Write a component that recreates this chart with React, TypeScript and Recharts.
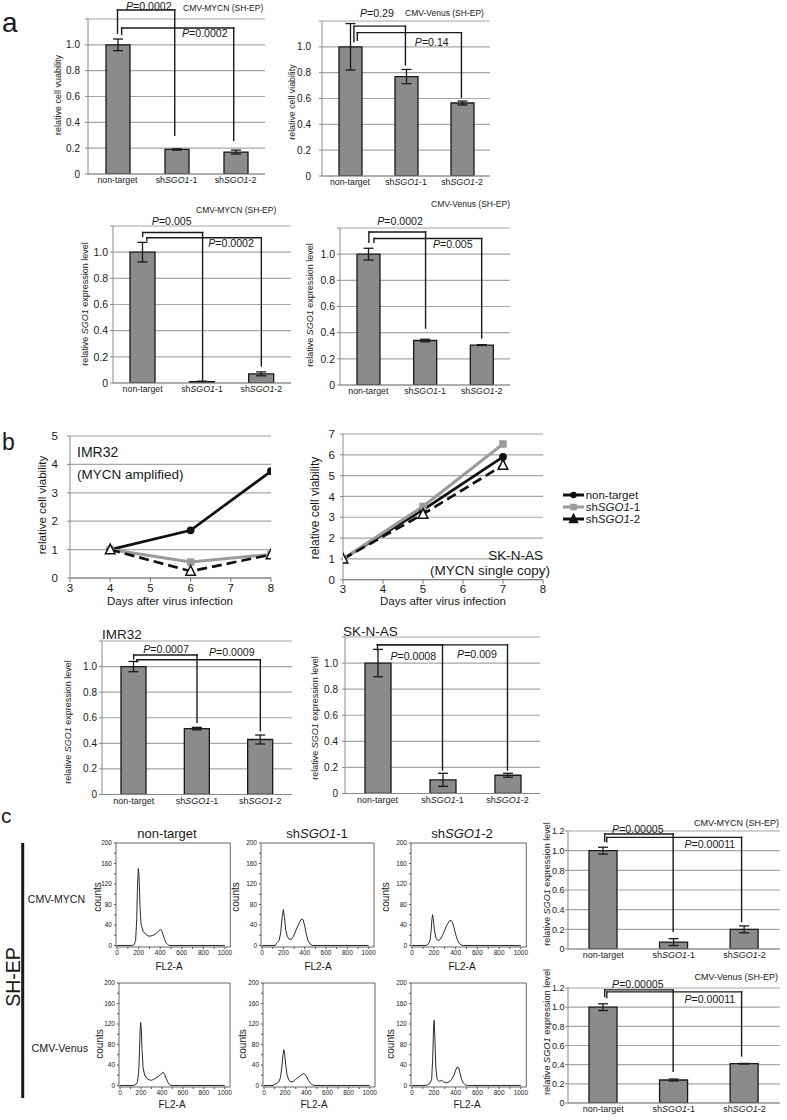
import React from 'react';
import {
  BarChart,
  Bar,
  ErrorBar,
  LineChart,
  Line,
  XAxis,
  YAxis,
  CartesianGrid,
  ReferenceLine,
  ReferenceDot,
  ReferenceArea,
  Legend
} from 'recharts';

const FONT = '"Liberation Sans", Arial, Helvetica, sans-serif';
const INK = '#1a1a1a';
const GRID = '#a6a6a6';
const AXIS = '#8a8a8a';
const BAR_FILL = '#8b8b8b';

// ---------- shared categories / ticks ----------
const groups = ['non-target', 'shSGO1-1', 'shSGO1-2'];
const barTicks = [0, 0.2, 0.4, 0.6, 0.8, 1.0, 1.2];
const dayTicks = [3, 4, 5, 6, 7, 8];
const imrViabTicks = [0, 1, 2, 3, 4, 5];
const sknViabTicks = [0, 1, 2, 3, 4, 5, 6, 7];
const fl2Ticks = [0, 100, 200, 300, 400, 500, 600, 700, 800, 900, 1000];
const countTicks = [0, 20, 40, 60, 80, 100, 120, 140, 160, 180, 200];

// ---------- panel a (SH-EP) ----------
const viabMycn = [1.0, 0.19, 0.17];
const viabMycnErr = [0.045, 0.005, 0.015];
const viabVenus = [1.0, 0.77, 0.565];
const viabVenusErr = [0.18, 0.055, 0.015];
const sgoMycnA = [1.0, 0.01, 0.07];
const sgoMycnAErr = [0.075, 0.004, 0.015];
const sgoVenusA = [1.0, 0.34, 0.305];
const sgoVenusAErr = [0.045, 0.01, 0.003];

// ---------- panel b ----------
const imrDays = [4, 6, 8];
const imrNonTarget = [1.0, 1.68, 3.76];
const imrSh1 = [1.0, 0.56, 0.83];
const imrSh2 = [1.0, 0.24, 0.82];
const sknDays = [3, 5, 7];
const sknNonTarget = [1.0, 3.35, 5.9];
const sknSh1 = [1.0, 3.52, 6.52];
const sknSh2 = [1.0, 3.15, 5.5];
const imrSgo = [1.0, 0.515, 0.43];
const imrSgoErr = [0.04, 0.01, 0.035];
const sknSgo = [1.0, 0.105, 0.14];
const sknSgoErr = [0.105, 0.05, 0.015];

// ---------- panel c ----------
const sgoMycnC = [1.0, 0.07, 0.2];
const sgoMycnCErr = [0.035, 0.035, 0.035];
const sgoVenusC = [1.0, 0.24, 0.41];
const sgoVenusCErr = [0.035, 0.01, 0.003];

// FL2-A histograms: [FL2-A, counts]
const histMycnNonTarget: [number, number][] = [
  [0, 0], [140, 0], [160, 2], [172, 10], [182, 50], [190, 120], [197, 150], [204, 135],
  [212, 80], [222, 42], [240, 28], [265, 22], [295, 18], [325, 19], [355, 22], [380, 27],
  [400, 31], [412, 30], [425, 22], [440, 12], [455, 5], [470, 2], [485, 0], [1000, 0]
];
const histMycnSh1: [number, number][] = [
  [0, 0], [125, 0], [135, 4], [145, 6], [160, 10], [175, 25], [188, 55], [200, 70],
  [210, 55], [222, 30], [238, 17], [255, 12], [275, 12], [295, 18], [315, 28], [335, 38],
  [355, 47], [372, 52], [385, 50], [400, 38], [415, 22], [430, 10], [450, 3], [470, 0], [1000, 0]
];
const histMycnSh2: [number, number][] = [
  [0, 0], [130, 0], [150, 3], [165, 10], [175, 28], [182, 50], [188, 60], [195, 52],
  [205, 30], [220, 14], [240, 9], [260, 12], [280, 20], [300, 30], [320, 40], [340, 47],
  [358, 49], [372, 45], [385, 35], [400, 22], [415, 12], [430, 5], [450, 1], [470, 0], [1000, 0]
];
const histVenusNonTarget: [number, number][] = [
  [0, 0], [130, 0], [150, 2], [165, 6], [178, 25], [186, 70], [192, 110], [197, 123],
  [203, 110], [210, 70], [220, 35], [235, 20], [255, 14], [280, 11], [300, 10], [320, 12],
  [345, 15], [370, 18], [390, 22], [405, 25], [413, 26], [425, 22], [440, 14], [455, 7],
  [470, 2], [485, 0], [1000, 0]
];
const histVenusSh1: [number, number][] = [
  [0, 0], [85, 0], [100, 2], [120, 4], [140, 7], [155, 15], [168, 35], [178, 58], [187, 70],
  [195, 62], [205, 40], [218, 20], [235, 10], [255, 7], [275, 8], [300, 12], [325, 16],
  [350, 20], [370, 23], [385, 22], [400, 18], [420, 10], [440, 4], [460, 1], [475, 0], [1000, 0]
];
const histVenusSh2: [number, number][] = [
  [0, 0], [120, 0], [140, 1], [165, 4], [180, 12], [190, 55], [197, 110], [203, 127],
  [210, 90], [218, 35], [230, 12], [250, 8], [270, 10], [290, 7], [315, 5], [340, 7],
  [365, 12], [385, 20], [400, 30], [415, 36], [428, 35], [440, 25], [455, 12], [470, 5],
  [490, 1], [510, 0], [1000, 0]
];

// significance brackets, in data units (x: category index, y: value)
type Bracket = { a: number; b: number; top: number; aEnd: number; bEnd: number; p: string; px: number; py: number };

const bracketsViabMycn: Bracket[] = [
  { a: 0, b: 0.97, top: 1.27, aEnd: 1.09, bEnd: 0.3, p: '0.0002', px: 0.53, py: 1.272 },
  { a: 0.07, b: 1.97, top: 1.13, aEnd: 1.08, bEnd: 0.26, p: '0.0002', px: 1.48, py: 1.06 }
];
const bracketsViabVenus: Bracket[] = [
  { a: 0.07, b: 0.99, top: 1.16, aEnd: 1.04, bEnd: 0.86, p: '0.29', px: 0.48, py: 1.23 },
  { a: 0.13, b: 1.99, top: 1.11, aEnd: 1.05, bEnd: 0.61, p: '0.14', px: 1.46, py: 1.01 }
];
const bracketsSgoMycnA: Bracket[] = [
  { a: 0, b: 1.01, top: 1.15, aEnd: 1.12, bEnd: 0.02, p: '0.005', px: 0.49, py: 1.21 },
  { a: 0.07, b: 2.0, top: 1.11, aEnd: 1.09, bEnd: 0.13, p: '0.0002', px: 1.49, py: 1.04 }
];
const bracketsSgoVenusA: Bracket[] = [
  { a: 0.01, b: 1.01, top: 1.17, aEnd: 1.09, bEnd: 0.435, p: '0.0002', px: 0.56, py: 1.22 },
  { a: 0.1, b: 2.0, top: 1.12, aEnd: 1.09, bEnd: 0.36, p: '0.005', px: 1.49, py: 1.05 }
];
const bracketsImr: Bracket[] = [
  { a: 0, b: 1.0, top: 1.09, aEnd: 1.06, bEnd: 0.565, p: '0.0007', px: 0.51, py: 1.11 },
  { a: 0.05, b: 2.0, top: 1.053, aEnd: 1.04, bEnd: 0.5, p: '0.0009', px: 1.55, py: 1.08 }
];
const bracketsSkn: Bracket[] = [
  { a: 0, b: 1.0, top: 1.14, aEnd: 1.1, bEnd: 0.18, p: '0.0008', px: 0.55, py: 1.026 },
  { a: 0, b: 2.0, top: 1.14, aEnd: 1.14, bEnd: 0.18, p: '0.009', px: 1.53, py: 1.04 }
];
const bracketsSgoMycnC: Bracket[] = [
  { a: 0.02, b: 0.99, top: 1.17, aEnd: 1.095, bEnd: 0.18, p: '0.00005', px: 0.49, py: 1.18 },
  { a: 0.05, b: 1.96, top: 1.135, aEnd: 1.09, bEnd: 0.28, p: '0.00011', px: 1.51, py: 1.03 }
];
const bracketsSgoVenusC: Bracket[] = [
  { a: 0.02, b: 0.99, top: 1.18, aEnd: 1.11, bEnd: 0.33, p: '0.00005', px: 0.49, py: 1.2 },
  { a: 0.05, b: 1.96, top: 1.16, aEnd: 1.1, bEnd: 0.49, p: '0.00011', px: 1.51, py: 1.04 }
];

// ---------- helpers ----------
const GroupName = ({ name }: { name: string }) => {
  if (!name.startsWith('sh')) return <>{name}</>;
  return (
    <>
      <tspan>sh</tspan>
      <tspan fontStyle="italic">SGO1</tspan>
      <tspan>{name.slice(6)}</tspan>
    </>
  );
};

const HtmlGroupName = ({ name }: { name: string }) => {
  if (!name.startsWith('sh')) return <>{name}</>;
  return (
    <>
      sh<i>SGO1</i>
      {name.slice(6)}
    </>
  );
};

const GroupTick = (props: any) => {
  const { x, y, payload, size } = props;
  return (
    <text x={x} y={y} dy="0.71em" textAnchor="middle" fontSize={size} fontFamily={FONT} fill={INK}>
      <GroupName name={payload.value} />
    </text>
  );
};

const PLabel = ({ cx, cy, text }: { cx: number; cy: number; text: string }) => (
  <text x={cx} y={cy} textAnchor="middle" fontSize={10.6} fontFamily={FONT} fill={INK}>
    <tspan fontStyle="italic">P</tspan>={text}
  </text>
);

function bracketMarks(list: Bracket[], tag: string) {
  const line = { xAxisId: 'n', stroke: INK, strokeWidth: 1.4, strokeLinecap: 'square' as const, ifOverflow: 'visible' as const };
  return list.flatMap((b, i) => [
    <ReferenceLine key={`${tag}${i}a`} {...line} segment={[{ x: b.a, y: b.aEnd }, { x: b.a, y: b.top }]} />,
    <ReferenceLine key={`${tag}${i}t`} {...line} segment={[{ x: b.a, y: b.top }, { x: b.b, y: b.top }]} />,
    <ReferenceLine key={`${tag}${i}b`} {...line} segment={[{ x: b.b, y: b.top }, { x: b.b, y: b.bEnd }]} />,
    <ReferenceDot
      key={`${tag}${i}p`}
      xAxisId="n"
      x={b.px}
      y={b.py}
      ifOverflow="visible"
      shape={(p: any) => <PLabel cx={p.cx} cy={p.cy} text={b.p} />}
    />
  ]);
}

type Rect = [number, number, number, number];

interface BarPanelProps {
  plot: Rect;
  values: number[];
  errors: number[];
  brackets: Bracket[];
  tag: string;
  barSize: number;
  tickGap: number;
  tickFont: number;
  catFont: number;
  showTop?: boolean;
}

const BarPanel: React.FC<BarPanelProps> = ({ plot, values, errors, brackets, tag, barSize, tickGap, tickFont, catFont, showTop }) => {
  const [x1, y1, x2, y2] = plot;
  const L = 60, T = 32, R = 12, B = 22;
  const data = groups.map((g, i) => ({ g, i, v: values[i], e: errors[i] }));
  return (
    <div style={{ position: 'absolute', left: x1 - L, top: y1 - T }}>
      <BarChart
        width={x2 - x1 + L + R}
        height={y2 - y1 + T + B}
        data={data}
        margin={{ top: T, right: R, bottom: B - 16, left: L - 30 }}
      >
        <CartesianGrid vertical={false} stroke={GRID} strokeWidth={1.2} />
        <XAxis
          dataKey="g"
          height={16}
          interval={0}
          tickLine={false}
          tickSize={0}
          tickMargin={3}
          axisLine={{ stroke: AXIS }}
          tick={<GroupTick size={catFont} />}
        />
        <XAxis xAxisId="n" dataKey="i" type="number" domain={[-0.5, 2.5]} allowDataOverflow hide />
        <YAxis
          width={30}
          domain={[0, 1.2]}
          ticks={barTicks}
          interval={0}
          allowDataOverflow
          tickSize={3}
          tickMargin={tickGap - 3}
          axisLine={{ stroke: AXIS }}
          tickLine={{ stroke: AXIS }}
          tick={{ fontSize: tickFont, fill: INK, fontFamily: FONT }}
          tickFormatter={(t: number) => (t === 0 ? '0' : t > 1.1 && !showTop ? '' : t.toFixed(1))}
        />
        <Bar dataKey="v" fill={BAR_FILL} stroke={INK} strokeWidth={1.3} barSize={barSize} isAnimationActive={false}>
          <ErrorBar dataKey="e" width={5} stroke={INK} strokeWidth={1.3} />
        </Bar>
        {bracketMarks(brackets, tag)}
      </BarChart>
    </div>
  );
};

// ---------- growth curves ----------
const seriesStyle: Record<string, { stroke: string; width: number; dash?: string; marker: string }> = {
  nt: { stroke: '#111', width: 2.7, marker: 'circle' },
  sh1: { stroke: '#9b9b9b', width: 3, marker: 'square' },
  sh2: { stroke: '#111', width: 2.7, dash: '10 5', marker: 'triangle' }
};

const Marker = ({ cx, cy, kind, legend }: { cx: number; cy: number; kind: string; legend?: boolean }) => {
  if (kind === 'circle') return <circle cx={cx} cy={cy} r={legend ? 3.2 : 3.9} fill="#111" />;
  if (kind === 'square') {
    const s = legend ? 6.5 : 7.5;
    return <rect x={cx - s / 2} y={cy - s / 2} width={s} height={s} fill="#9b9b9b" />;
  }
  const h = legend ? 4 : 4.8;
  return (
    <path
      d={`M${cx},${cy - h * 1.15}L${cx + h},${cy + h * 0.85}L${cx - h},${cy + h * 0.85}Z`}
      fill={legend ? '#111' : '#fff'}
      stroke="#111"
      strokeWidth={1.5}
    />
  );
};

const legendRows = [
  { key: 'nt', name: 'non-target' },
  { key: 'sh1', name: 'shSGO1-1' },
  { key: 'sh2', name: 'shSGO1-2' }
];

const GrowthLegend = () => (
  <div style={{ fontFamily: FONT, fontSize: 11.5, color: INK }}>
    {legendRows.map((r) => {
      const st = seriesStyle[r.key];
      return (
        <div key={r.key} style={{ display: 'flex', alignItems: 'center', height: 12 }}>
          <svg width={23} height={12} style={{ display: 'block' }}>
            <line x1={1} x2={22} y1={6} y2={6} stroke={st.stroke} strokeWidth={3} />
            <Marker cx={11.5} cy={6} kind={st.marker} legend />
          </svg>
          <span style={{ marginLeft: 1, lineHeight: '12px', whiteSpace: 'nowrap' }}>
            <HtmlGroupName name={r.name} />
          </span>
        </div>
      );
    })}
  </div>
);

interface GrowthPanelProps {
  plot: Rect;
  days: number[];
  series: { key: string; values: number[] }[];
  yTicks: number[];
  tickGap: number;
  legendAt?: [number, number];
}

const GrowthPanel: React.FC<GrowthPanelProps> = ({ plot, days, series, yTicks, tickGap, legendAt }) => {
  const [x1, y1, x2, y2] = plot;
  const L = 45, T = 10, R = legendAt ? 115 : 10, B = 30;
  const left = x1 - L, top = y1 - T;
  return (
    <div style={{ position: 'absolute', left, top }}>
      <LineChart
        width={x2 - x1 + L + R}
        height={y2 - y1 + T + B}
        margin={{ top: T, right: R, bottom: B - 16, left: L - 30 }}
      >
        <CartesianGrid vertical={false} stroke={GRID} strokeWidth={1.2} />
        <XAxis
          dataKey="day"
          type="number"
          domain={[3, 8]}
          ticks={dayTicks}
          interval={0}
          allowDataOverflow
          height={16}
          tickSize={4}
          tickMargin={1.5}
          axisLine={{ stroke: '#777' }}
          tickLine={{ stroke: '#777' }}
          tick={{ fontSize: 11.5, fill: INK, fontFamily: FONT }}
        />
        <YAxis
          width={30}
          domain={[0, yTicks[yTicks.length - 1]]}
          ticks={yTicks}
          interval={0}
          allowDataOverflow
          tickSize={3}
          tickMargin={tickGap - 3}
          axisLine={{ stroke: AXIS }}
          tickLine={{ stroke: AXIS }}
          tick={{ fontSize: 11.5, fill: INK, fontFamily: FONT }}
        />
        {series.map((s) => {
          const st = seriesStyle[s.key];
          return (
            <Line
              key={s.key}
              data={days.map((d, i) => ({ day: d, v: s.values[i] }))}
              dataKey="v"
              type="linear"
              stroke={st.stroke}
              strokeWidth={st.width}
              strokeDasharray={st.dash}
              isAnimationActive={false}
              dot={(p: any) => <Marker key={`${s.key}${p.index}`} cx={p.cx} cy={p.cy} kind={st.marker} />}
              activeDot={false}
            />
          );
        })}
        {legendAt && (
          <Legend
            layout="vertical"
            align="center"
            verticalAlign="middle"
            content={() => <GrowthLegend />}
            wrapperStyle={{ left: legendAt[0] - left, top: legendAt[1] - top, width: 100, height: 36 }}
          />
        )}
      </LineChart>
    </div>
  );
};

// ---------- FL2-A histograms ----------
const HistPanel: React.FC<{ plot: Rect; points: [number, number][] }> = ({ plot, points }) => {
  const [x1, y1, x2, y2] = plot;
  const L = 30, T = 6, R = 6, B = 24;
  const data = points.map(([fl2, count]) => ({ fl2, count }));
  const tick = { fontSize: 6.5, fill: INK, fontFamily: FONT };
  return (
    <div style={{ position: 'absolute', left: x1 - L, top: y1 - T }}>
      <LineChart
        width={x2 - x1 + L + R}
        height={y2 - y1 + T + B}
        data={data}
        margin={{ top: T, right: R, bottom: B - 14, left: L - 20 }}
      >
        <XAxis
          dataKey="fl2"
          type="number"
          domain={[-10, 1050]}
          allowDataOverflow
          ticks={fl2Ticks}
          interval={0}
          height={14}
          tickSize={2}
          tickMargin={1.5}
          axisLine={false}
          tickLine={{ stroke: '#555' }}
          tick={tick}
          tickFormatter={(v: number) => (v % 200 === 0 ? String(v) : '')}
        />
        <YAxis
          type="number"
          domain={[-3, 200]}
          allowDataOverflow
          ticks={countTicks}
          interval={0}
          width={20}
          tickSize={2}
          tickMargin={2}
          axisLine={false}
          tickLine={{ stroke: '#555' }}
          tick={tick}
          tickFormatter={(v: number) => (v % 40 === 0 ? String(v) : '')}
        />
        <ReferenceArea x1={-10} x2={1050} y1={-3} y2={200} fill="none" stroke="#555" strokeWidth={0.9} ifOverflow="visible" />
        <Line dataKey="count" type="linear" stroke="#2a2a2a" strokeWidth={1} dot={false} activeDot={false} isAnimationActive={false} />
      </LineChart>
    </div>
  );
};

// ---------- free text ----------
const VText = ({ x, y, size, children }: { x: number; y: number; size: number; children: React.ReactNode }) => (
  <text
    x={x}
    y={y}
    transform={`rotate(-90 ${x} ${y})`}
    textAnchor="middle"
    dominantBaseline="central"
    fontSize={size}
  >
    {children}
  </text>
);

const SgoLabel = () => (
  <>
    relative <tspan fontStyle="italic">SGO1</tspan> expression level
  </>
);

export default function App() {
  return (
    <div style={{ position: 'absolute', left: 0, top: 0, width: 787, height: 1120, background: '#fff', overflow: 'hidden' }}>
      {/* panel a */}
      <BarPanel plot={[88, 19, 265, 174]} values={viabMycn} errors={viabMycnErr} brackets={bracketsViabMycn} tag="a1" barSize={24} tickGap={8} tickFont={10} catFont={8.8} />
      <BarPanel plot={[322, 21, 490, 176]} values={viabVenus} errors={viabVenusErr} brackets={bracketsViabVenus} tag="a2" barSize={23} tickGap={11} tickFont={10} catFont={8.8} />
      <BarPanel plot={[113, 226, 291, 383]} values={sgoMycnA} errors={sgoMycnAErr} brackets={bracketsSgoMycnA} tag="a3" barSize={25} tickGap={5} tickFont={10.5} catFont={8.8} />
      <BarPanel plot={[340, 228, 510, 385]} values={sgoVenusA} errors={sgoVenusAErr} brackets={bracketsSgoVenusA} tag="a4" barSize={23} tickGap={5} tickFont={10.5} catFont={8.8} />

      {/* panel b */}
      <GrowthPanel
        plot={[70, 435.7, 271, 577.7]}
        days={imrDays}
        series={[
          { key: 'nt', values: imrNonTarget },
          { key: 'sh1', values: imrSh1 },
          { key: 'sh2', values: imrSh2 }
        ]}
        yTicks={imrViabTicks}
        tickGap={12}
      />
      <GrowthPanel
        plot={[343.3, 434.3, 543.3, 580]}
        days={sknDays}
        series={[
          { key: 'nt', values: sknNonTarget },
          { key: 'sh1', values: sknSh1 },
          { key: 'sh2', values: sknSh2 }
        ]}
        yTicks={sknViabTicks}
        tickGap={8}
        legendAt={[561.7, 489]}
      />
      <BarPanel plot={[102, 640.5, 292, 794]} values={imrSgo} errors={imrSgoErr} brackets={bracketsImr} tag="b3" barSize={25} tickGap={5} tickFont={10} catFont={9} />
      <BarPanel plot={[345, 637.3, 540, 793.8]} values={sknSgo} errors={sknSgoErr} brackets={bracketsSkn} tag="b4" barSize={26} tickGap={7} tickFont={10} catFont={9} />

      {/* panel c */}
      <HistPanel plot={[115.7, 843.3, 230, 947.3]} points={histMycnNonTarget} />
      <HistPanel plot={[261, 843.3, 374, 947.3]} points={histMycnSh1} />
      <HistPanel plot={[410.7, 843.3, 526, 947.3]} points={histMycnSh2} />
      <HistPanel plot={[119, 982.7, 230, 1086.7]} points={histVenusNonTarget} />
      <HistPanel plot={[263, 982.7, 375, 1086.7]} points={histVenusSh1} />
      <HistPanel plot={[410.7, 982.7, 526, 1086.7]} points={histVenusSh2} />
      <BarPanel plot={[568.3, 831.3, 780, 949.3]} values={sgoMycnC} errors={sgoMycnCErr} brackets={bracketsSgoMycnC} tag="c1" barSize={28} tickGap={3.5} tickFont={9} catFont={9} showTop />
      <BarPanel plot={[568.3, 988.3, 780, 1103.3]} values={sgoVenusC} errors={sgoVenusCErr} brackets={bracketsSgoVenusC} tag="c2" barSize={28} tickGap={3.5} tickFont={9} catFont={9} showTop />

      <svg
        width={787}
        height={1120}
        style={{ position: 'absolute', left: 0, top: 0, pointerEvents: 'none' }}
        fontFamily={FONT}
        fill={INK}
      >
        {/* panel letters */}
        <text x={2} y={32} fontSize={28}>a</text>
        <text x={2} y={450} fontSize={23}>b</text>
        <text x={1} y={823} fontSize={21}>c</text>

        {/* panel a titles and axis titles */}
        <text x={183} y={10.5} fontSize={8.5}>CMV-MYCN (SH-EP)</text>
        <text x={405} y={16} fontSize={8.5}>CMV-Venus (SH-EP)</text>
        <text x={196} y={213} fontSize={8.5}>CMV-MYCN (SH-EP)</text>
        <text x={510} y={207} fontSize={8.5} textAnchor="end">CMV-Venus (SH-EP)</text>
        <VText x={58} y={95} size={9}>relative cell vuability</VText>
        <VText x={292} y={102} size={8.8}>relative cell viability</VText>
        <VText x={85} y={304} size={9}><SgoLabel /></VText>
        <VText x={310} y={305} size={9}><SgoLabel /></VText>

        {/* panel b */}
        <text x={77} y={457} fontSize={14}>IMR32</text>
        <text x={77} y={479} fontSize={13.5}>(MYCN amplified)</text>
        <text x={543} y={560} fontSize={13.5} textAnchor="end">SK-N-AS</text>
        <text x={550} y={575} fontSize={13.5} textAnchor="end">(MYCN single copy)</text>
        <VText x={42} y={505} size={11.5}>relative cell viability</VText>
        <VText x={315} y={508} size={12}>relative cell viability</VText>
        <text x={170} y={605} fontSize={11.5} textAnchor="middle">Days after virus infection</text>
        <text x={443} y={605} fontSize={11.5} textAnchor="middle">Days after virus infection</text>
        <text x={102} y={639} fontSize={13.5}>IMR32</text>
        <text x={343} y={636} fontSize={13.5}>SK-N-AS</text>
        <VText x={68} y={722} size={9}><SgoLabel /></VText>
        <VText x={315} y={718} size={9}><SgoLabel /></VText>

        {/* panel c */}
        <text x={167} y={838} fontSize={13} textAnchor="middle">non-target</text>
        <text x={317} y={838} fontSize={13} textAnchor="middle"><GroupName name="shSGO1-1" /></text>
        <text x={462} y={838} fontSize={13} textAnchor="middle"><GroupName name="shSGO1-2" /></text>
        <text x={85} y={903} fontSize={10.5} textAnchor="end">CMV-MYCN</text>
        <text x={88} y={1051.5} fontSize={10.7} textAnchor="end">CMV-Venus</text>
        <VText x={13} y={977} size={19.5}>SH-EP</VText>
        <rect x={21.2} y={843} width={3} height={255} fill={INK} />
        <VText x={97} y={897} size={10}>counts</VText>
        <VText x={235} y={897} size={10}>counts</VText>
        <VText x={385} y={897} size={10}>counts</VText>
        <VText x={99} y={1044} size={10}>counts</VText>
        <VText x={242} y={1044} size={10}>counts</VText>
        <VText x={390} y={1044} size={10}>counts</VText>
        <text x={169} y={970} fontSize={10} textAnchor="middle">FL2-A</text>
        <text x={318} y={970} fontSize={10} textAnchor="middle">FL2-A</text>
        <text x={462} y={970} fontSize={10} textAnchor="middle">FL2-A</text>
        <text x={172} y={1108} fontSize={10} textAnchor="middle">FL2-A</text>
        <text x={314} y={1108} fontSize={10} textAnchor="middle">FL2-A</text>
        <text x={467} y={1108} fontSize={10} textAnchor="middle">FL2-A</text>
        <text x={779} y={826} fontSize={9} textAnchor="end">CMV-MYCN (SH-EP)</text>
        <text x={778} y={980} fontSize={9} textAnchor="end">CMV-Venus (SH-EP)</text>
        <VText x={547} y={884} size={9}><SgoLabel /></VText>
        <VText x={547} y={1032} size={9.2}><SgoLabel /></VText>
      </svg>
    </div>
  );
}
